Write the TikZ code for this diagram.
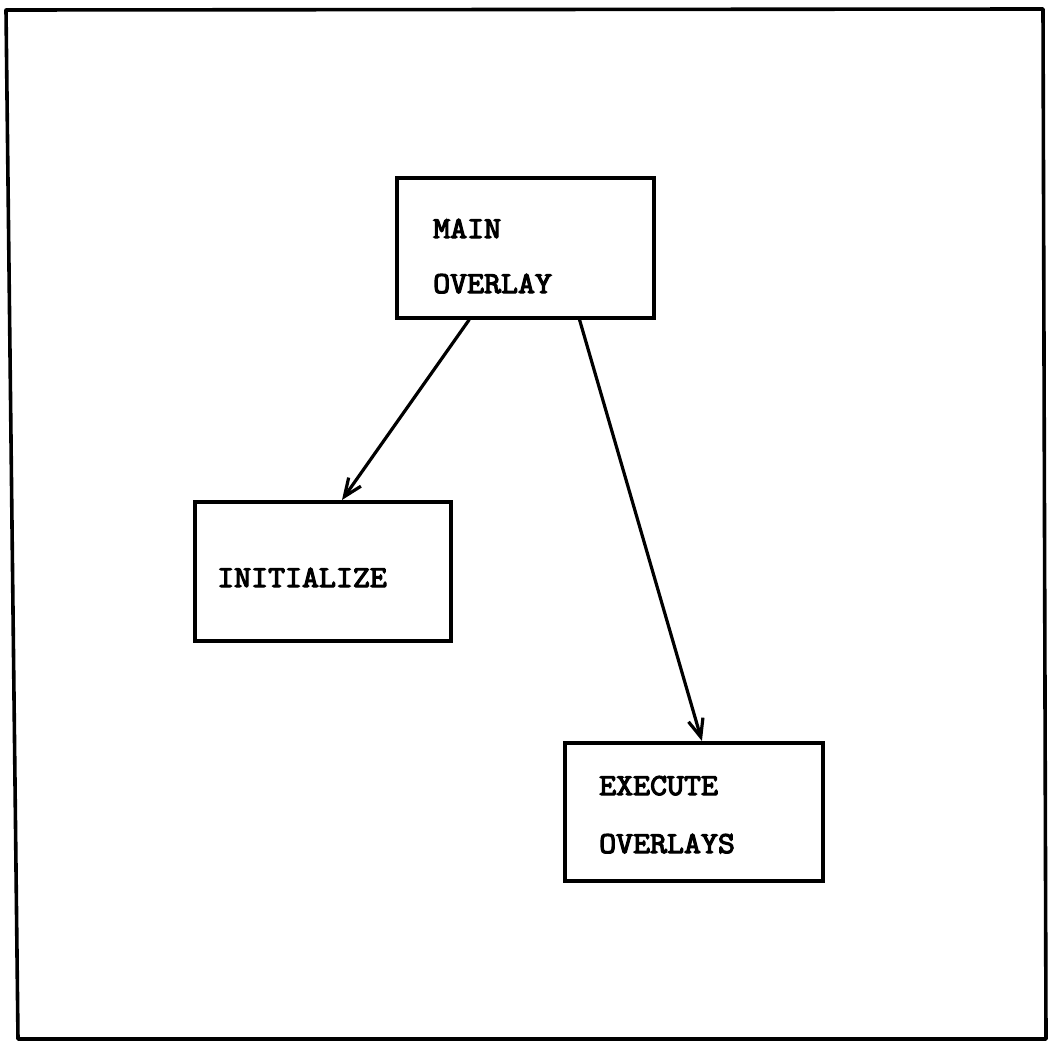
\documentclass[tikz,border=0pt]{standalone}
\usepackage{fontspec}
\newfontfamily\boxfont{Latin Modern Mono}[FakeBold=4,FakeStretch=1.08]
\usetikzlibrary{arrows.meta,calc}
\begin{document}
\begin{tikzpicture}[x=1pt,y=-1pt,
  modbox/.style={draw,line width=3.6pt,rectangle,inner sep=0pt,anchor=north west},
  label/.style={anchor=base west,inner sep=0pt,font=\boxfont\fontsize{30.5}{31}\selectfont},
  callarrow/.style={line width=3.2pt,-{Straight Barb[length=18pt,width=15pt,line width=3.2pt]}}]
  \useasboundingbox (0,0) rectangle (1050,1041);
  % outer frame
  \coordinate (fa) at (6,10);
  \coordinate (fb) at (1043,9);
  \coordinate (fc) at (1046,1039);
  \coordinate (fd) at (18,1039);
  \draw[line width=3.6pt,line join=round] (fa) -- (fb) -- (fc) -- (fd) -- cycle;
  % modules
  \node[modbox,minimum width=257pt,minimum height=140pt] (main) at (395,176) {};
  \node[modbox,minimum width=256pt,minimum height=139pt] (init) at (193,500) {};
  \node[modbox,minimum width=258pt,minimum height=138pt] (exec) at (563,741) {};
  % module names
  \node[label] (mainA) at (433,238) {MAIN};
  \node[label] (mainB) at (433,293) {OVERLAY};
  \node[label] (initA) at (217,587) {INITIALIZE};
  \node[label] (execA) at (599,795) {EXECUTE};
  \node[label] (execB) at (599,853) {OVERLAYS};
  % calls
  \draw[callarrow] ($(main.south west)!0.285!(main.south east)$) -- ($(init.north west)!0.574!(init.north east)$);
  \draw[callarrow] ($(main.south west)!0.708!(main.south east)$) -- ($(exec.north west)!0.531!(exec.north east)$);
\end{tikzpicture}
\end{document}
